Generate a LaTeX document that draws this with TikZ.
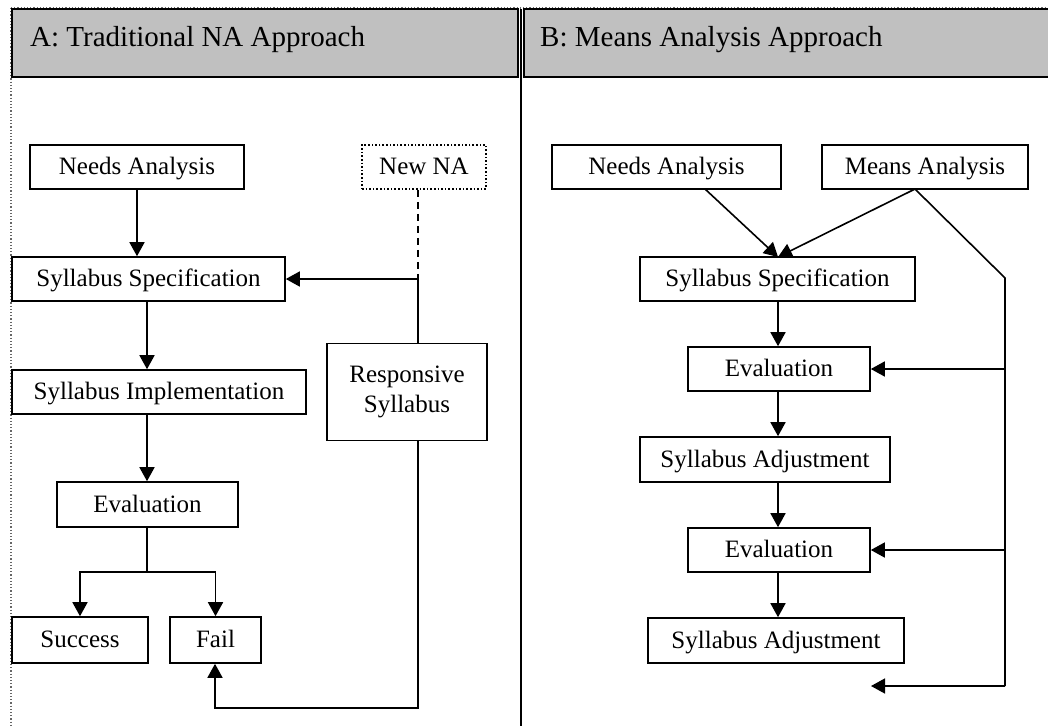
\documentclass[tikz,border=0pt]{standalone}
\usepackage{fontspec}
\setmainfont{Liberation Serif}
\usetikzlibrary{arrows.meta,calc}
\definecolor{hdrgray}{HTML}{C0C0C0}
\tikzset{
  box/.style={draw=black, line width=1.6pt, inner sep=0pt, font=\fontsize{25}{30}\selectfont,
    align=center, text height=19pt, text depth=4pt},
  dotbox/.style={box, dotted, line width=1.8pt},
  conn/.style={line width=1.6pt, -{Triangle[length=14pt,width=15pt]}},
  link/.style={line width=1.6pt},
  dashlink/.style={line width=1.8pt, dash pattern=on 7pt off 5pt},
  frame/.style={line width=1.2pt, dotted, black!60},
  hdrtext/.style={font=\fontsize{29}{34}\selectfont, anchor=west, inner sep=0pt},
}
\begin{document}
\begin{tikzpicture}[x=1pt,y=-1pt]
\useasboundingbox (0,0) rectangle (1048,726);

% outer frame and column headers
\draw[frame] (11,8) -- (1048,8);
\draw[frame] (11,8) -- (11,726);
\draw[fill=hdrgray, line width=1.6pt] (12,9) rectangle (518,77);
\draw[fill=hdrgray, line width=1.6pt] (524,9) rectangle (1050,77);
\draw[line width=1.6pt] (521,9) -- (521,726);
\node[hdrtext] (hdrA) at (30,40) {A: Traditional NA Approach};
\node[hdrtext] (hdrB) at (540,40) {B: Means Analysis Approach};

% ---- A: traditional approach ----
\node[box, minimum width=214, minimum height=44] (needsA) at (137,167) {Needs Analysis};
\node[dotbox, minimum width=124, minimum height=44] (newna) at (424,167) {New NA};
\node[box, minimum width=273, minimum height=44] (specA) at (148.5,279) {Syllabus Specification};
\node[box, minimum width=294, minimum height=44] (impl) at (159,392) {Syllabus Implementation};
\node[box, minimum width=160, minimum height=97, text height=, text depth=] (resp) at (407,392) {Responsive\\Syllabus};
\node[box, minimum width=181, minimum height=45] (evalA) at (147.5,504.5) {Evaluation};
\node[box, minimum width=136, minimum height=46] (success) at (80,640) {Success};
\node[box, minimum width=91, minimum height=46] (fail) at (215.5,640) {Fail};

\coordinate (colA) at (147,0);
\coordinate (colR) at (418,0);
\coordinate (jA) at (colR |- specA.east);
\coordinate (splitA) at (147,572);
\coordinate (loopR) at (418,708);
\coordinate (loopA) at (215,708);

\draw[conn] (needsA.south) -- (needsA.south |- specA.north);
\draw[conn] (specA.south -| colA) -- (impl.north -| colA);
\draw[conn] (impl.south -| colA) -- (evalA.north -| colA);
\draw[link] (evalA.south -| colA) -- (splitA);
\draw[conn] (splitA) -| (success.north);
\draw[conn] (splitA) -| (fail.north);
\draw[dashlink] (newna.south -| colR) -- (jA);
\draw[link] (resp.north -| colR) -- (jA);
\draw[conn] (jA) -- (specA.east);
\draw[conn] (resp.south -| colR) -- (loopR) -- (loopA) -- (fail.south -| loopA);

% ---- B: means analysis approach ----
\node[box, minimum width=229, minimum height=44] (needsB) at (666.5,167) {Needs Analysis};
\node[box, minimum width=206, minimum height=44] (means) at (925,167) {Means Analysis};
\node[box, minimum width=275, minimum height=44] (specB) at (777.5,279) {Syllabus Specification};
\node[box, minimum width=182, minimum height=44] (evalB1) at (779,369) {Evaluation};
\node[box, minimum width=250, minimum height=45] (adj1) at (765,459.5) {Syllabus Adjustment};
\node[box, minimum width=182, minimum height=44] (evalB2) at (779,550) {Evaluation};
\node[box, minimum width=256, minimum height=45] (adj2) at (776,640.5) {Syllabus Adjustment};

\coordinate (colB) at (778,0);
\coordinate (meetB) at (778,257);
\coordinate (srcN) at (705,189);
\coordinate (srcM) at (915,189);
\coordinate (bendB) at (1005,278);
\coordinate (railB) at (1005,686);
\coordinate (endB) at (871,686);

\draw[conn] (srcN) -- (meetB);
\draw[conn] (srcM) -- (meetB);
\draw[link] (srcM) -- (bendB) -- (railB);
\draw[conn] (specB.south -| colB) -- (evalB1.north -| colB);
\draw[conn] (evalB1.south -| colB) -- (adj1.north -| colB);
\draw[conn] (adj1.south -| colB) -- (evalB2.north -| colB);
\draw[conn] (evalB2.south -| colB) -- (adj2.north -| colB);
\draw[conn] (evalB1.east -| bendB) -- (evalB1.east);
\draw[conn] (evalB2.east -| bendB) -- (evalB2.east);
\draw[conn] (railB) -- (endB);
\end{tikzpicture}
\end{document}
